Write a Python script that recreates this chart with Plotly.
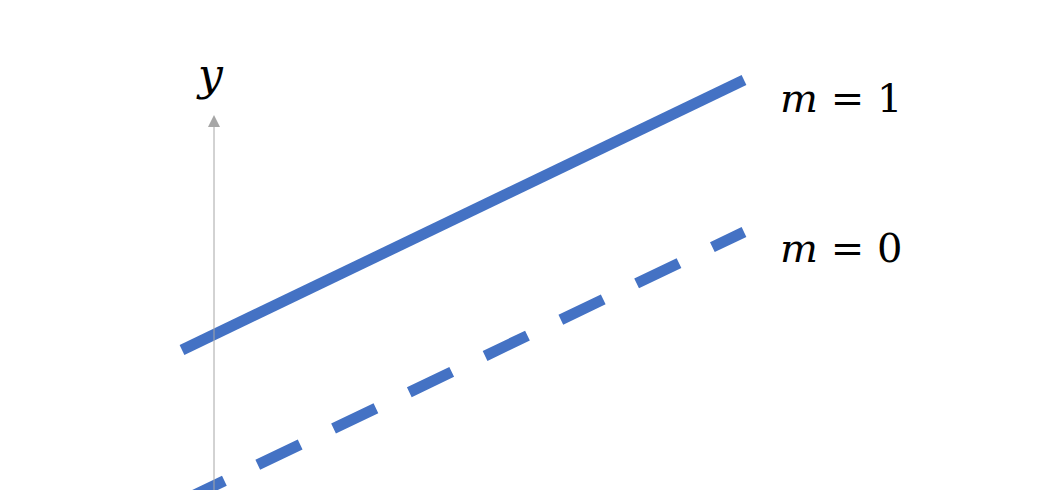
import plotly.graph_objects as go

# two parallel lines, y = a + b*x (1 unit ~ 100 px)
x_vals = [-0.32, 5.30]
y_m1 = [1.40, 4.10]
y_m0 = [-0.11, 2.58]

labels = ["<i>m</i> = 1", "<i>m</i> = 0"]
label_y = [3.92, 2.42]
axis_label = "<i>y</i>"

BLUE = "#4472C4"
GREY = "#A6A6A6"
FONT = "DejaVu Serif"

fig = go.Figure()

fig.add_trace(go.Scatter(
    x=x_vals, y=y_m1, mode="lines",
    line=dict(color=BLUE, width=11),
    hoverinfo="skip",
))
fig.add_trace(go.Scatter(
    x=x_vals, y=y_m0, mode="lines",
    line=dict(color=BLUE, width=11, dash="47px,37px"),
    hoverinfo="skip",
))

# the y axis, drawn as an arrow
fig.add_annotation(
    x=0, y=3.75, ax=0, ay=-0.1, axref="x", ayref="y",
    text="", showarrow=True,
    arrowhead=2, arrowsize=2.4, arrowwidth=1, arrowcolor=GREY,
)
fig.add_annotation(
    x=-0.04, y=4.16, text=axis_label, showarrow=False,
    font=dict(family=FONT, size=44, color="black"),
)

for text, ly in zip(labels, label_y):
    fig.add_annotation(
        x=5.64, y=ly, text=text, showarrow=False,
        xanchor="left", yanchor="middle",
        font=dict(family=FONT, size=40, color="black"),
    )

# page body adds an 8 px offset, so ranges are shifted by 0.08 units
fig.update_layout(
    width=1040, height=490,
    margin=dict(l=0, r=0, t=0, b=0),
    paper_bgcolor="white", plot_bgcolor="white",
    showlegend=False,
    xaxis=dict(range=[-2.06, 8.34], visible=False),
    yaxis=dict(range=[-0.08, 4.82], visible=False),
)

fig.write_html("out.html")
